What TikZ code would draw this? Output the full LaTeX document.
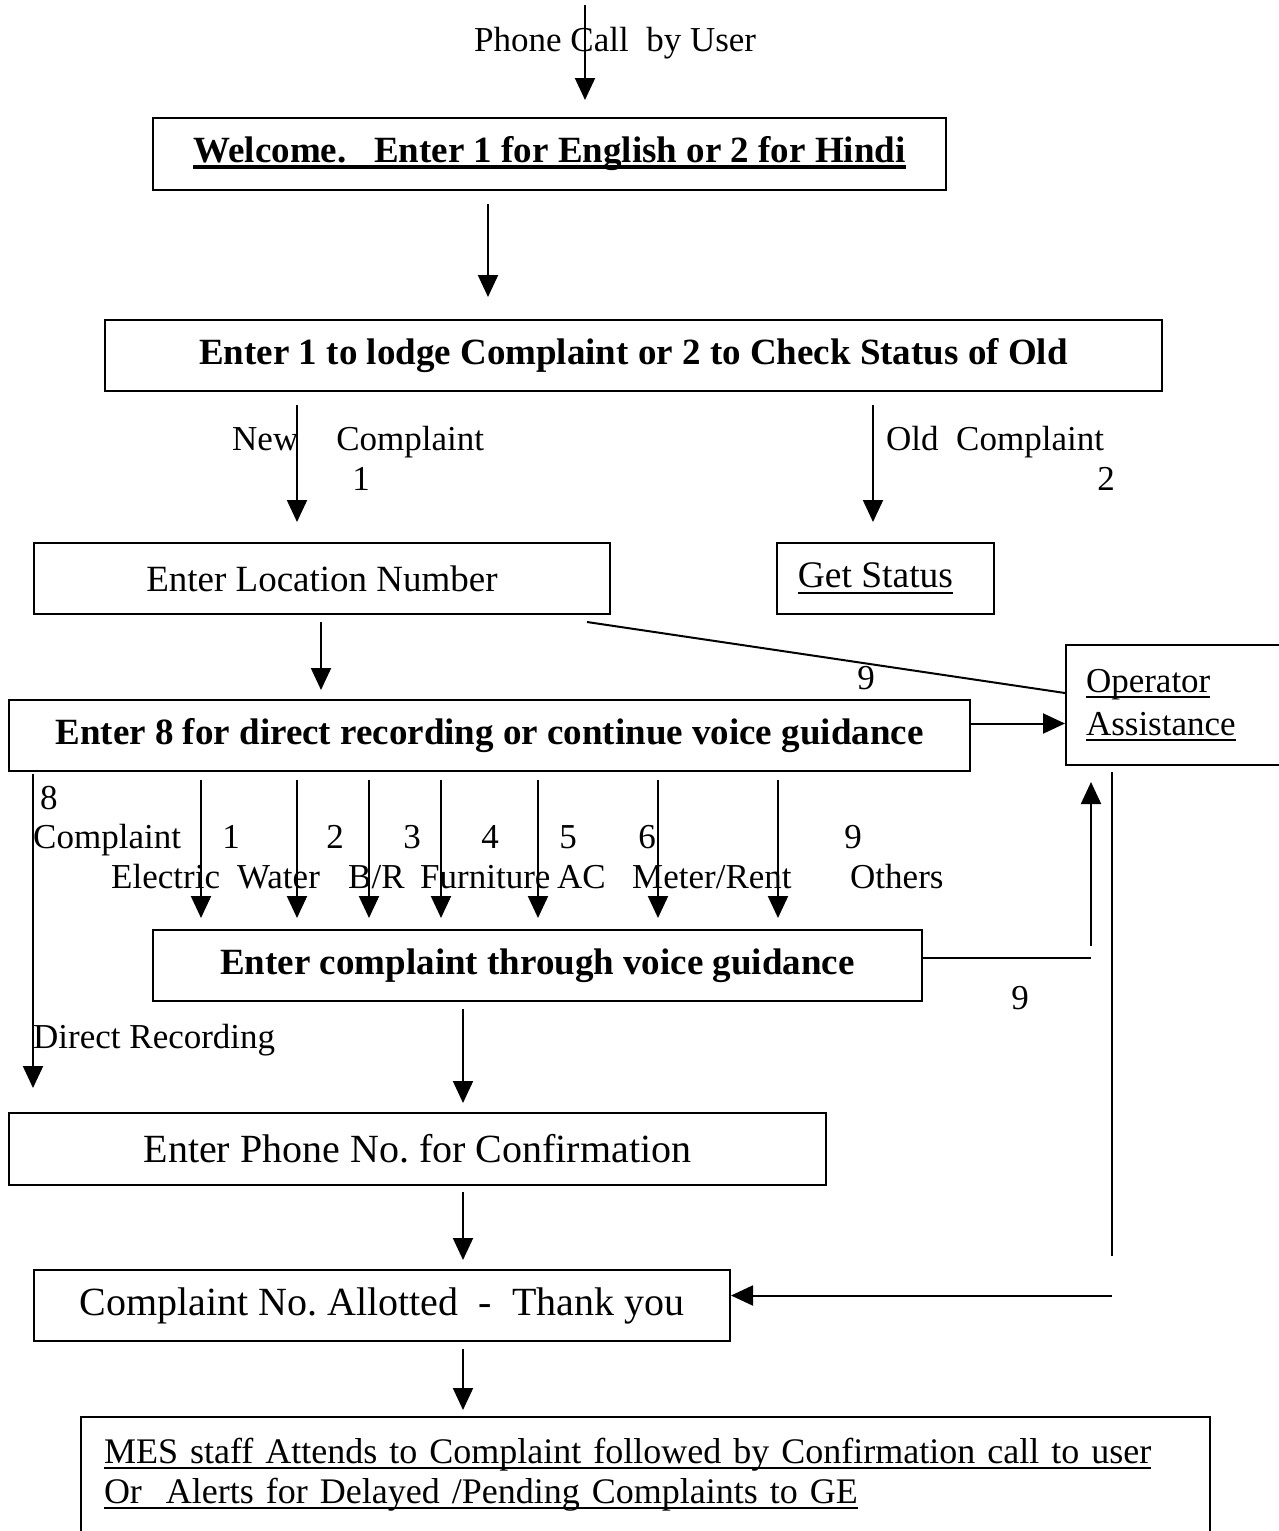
\documentclass[tikz,border=0pt]{standalone}
\usepackage{fontspec}
\setmainfont{Liberation Serif}
\usetikzlibrary{arrows.meta,positioning}

\frenchspacing
% underline: optional thickness
\newcommand{\undl}[2][2pt]{\setbox0=\hbox{#2}\leavevmode\rlap{\rule[-6pt]{\wd0}{#1}}\box0}
\newcommand{\labelsize}{\fontsize{35}{43}\selectfont}
\newcommand{\boxsize}{\fontsize{40}{48}\selectfont}
\newcommand{\boldsize}{\fontsize{37}{44}\selectfont\bfseries}

\tikzset{
  box/.style={draw, line width=2pt, anchor=north west, inner sep=0pt, minimum height=71pt},
  flow/.style={line width=2pt, -{Triangle[length=22pt,width=20pt]}},
  wire/.style={line width=2pt},
  lbl/.style={inner sep=0pt, anchor=base west, font=\labelsize},
  num/.style={inner sep=0pt, anchor=base, font=\labelsize},
}

\begin{document}
\begin{tikzpicture}[x=1pt,y=-1pt]
\useasboundingbox (0,0) rectangle (1279,1531);

% start
\node[lbl] (call) at (474,51) {Phone Call \ by User};
\coordinate (callin) at (585,5);

% boxes
\node[box, minimum width=793pt, minimum height=72pt] (welcome) at (152,117)
  {\boldsize\undl[4pt]{Welcome.\ \ \ Enter 1 for English or 2 for Hindi}};
\node[box, minimum width=1057pt] (choice) at (104,319)
  {\boldsize Enter 1 to lodge Complaint or 2 to Check Status of Old};
\node[box, minimum width=576pt] (loc) at (33,542)
  {\fontsize{37}{44}\selectfont Enter Location Number};
\node[box, minimum width=217pt] (status) at (776,542)
  {\fontsize{37.5}{44}\selectfont\hspace*{-20pt}\undl{Get Status}};
\node[box, minimum width=961pt] (guide) at (8,699)
  {\boldsize Enter 8 for direct recording or continue voice guidance};
\node[box, minimum height=120pt, text width=190pt, inner xsep=20pt, align=left,
  font=\labelsize] (opr) at (1065,644) {\undl{Operator}\\\undl{Assistance}};
\node[box, minimum width=769pt] (voice) at (152,929)
  {\boldsize Enter complaint through voice guidance};
\node[box, minimum width=817pt, minimum height=72pt] (phone) at (8,1112)
  {\boxsize Enter Phone No. for Confirmation};
\node[box, minimum width=696pt] (allot) at (33,1269)
  {\boxsize Complaint No. Allotted \ - \ Thank you};
\node[box, text width=1083pt, inner xsep=23pt, inner ysep=21pt, align=left,
  font=\fontsize{36}{40}\selectfont] (mes) at (80,1416)
  {\undl{MES staff Attends to Complaint followed by Confirmation call to user}\\
   \undl{Or \ Alerts for Delayed /Pending Complaints to GE}\\ \mbox{}};

% arrows down the middle
\draw[flow] (callin) -- ([yshift=17pt]welcome.north -| callin);
\draw[flow] ([yshift=-13pt]welcome.south -| 488,0) -- ([yshift=22pt]choice.north -| 488,0);
\draw[flow] ([yshift=-13pt]choice.south -| 297,0) -- ([yshift=20pt]loc.north -| 297,0);
\draw[flow] ([yshift=-13pt]choice.south -| 873,0) -- ([yshift=20pt]status.north -| 873,0);
\draw[flow] ([yshift=-7pt]loc.south -| 321,0) -- ([yshift=9pt]guide.north -| 321,0);
\foreach \x in {201,297,369,441,538,658,778}
  \draw[flow] ([yshift=-8pt]guide.south -| \x,0) -- ([yshift=11pt]voice.north -| \x,0);
\draw[flow] ([yshift=-7pt]voice.south -| 463,0) -- ([yshift=9pt]phone.north -| 463,0);
\draw[flow] ([yshift=-6pt]phone.south -| 463,0) -- ([yshift=9pt]allot.north -| 463,0);
\draw[flow] ([yshift=-7pt]allot.south -| 463,0) -- ([yshift=6pt]mes.north -| 463,0);

% direct recording
\coordinate (direct) at (33,1088);
\draw[flow] ([yshift=-2pt]guide.south -| direct) -- (direct);

% operator
\draw[wire] ([xshift=-24pt,yshift=-7pt]loc.south east) -- ([yshift=12pt]opr.west);
\draw[flow] ([yshift=12pt]guide.east) -- ([yshift=12pt]guide.east -| opr.west);
\draw[wire] ([yshift=8pt]voice.east) -- ++(168,0) coordinate (vturn);
\draw[flow] ([yshift=12pt]vturn) -- ([yshift=-16pt]vturn |- opr.south);
\coordinate (rtop) at (1112,772);
\coordinate (rbot) at (1112,1256);
\draw[wire] (rtop) -- (rbot);
\draw[flow] ([yshift=10pt]allot.east -| rbot) -- ([yshift=10pt]allot.east);

% labels
\node[lbl] (newc) at (232,450) {New\hspace{38pt}Complaint};
\node[num] (one) at (361,490) {1};
\node[lbl] (oldc) at (886,450) {Old \ Complaint};
\node[num] (two) at (1106,490) {2};
\node[num] (nine1) at (866,689) {9};
\node[lbl] (eight) at (40,809) {8};
\node[lbl] (compl) at (33,848) {Complaint};
\foreach \n/\x in {1/231,2/335,3/412,4/490,5/568,6/647,9/853}
  \node[num] (k\n) at (\x,848) {\n};
\node[lbl] (elec) at (111,888) {Electric};
\node[lbl] (water) at (237,888) {Water};
\node[lbl] (br) at (348,888) {B/R};
\node[lbl] (furn) at (420,888) {Furniture};
\node[lbl] (ac) at (557,888) {AC};
\node[lbl] (meter) at (632,888) {Meter/Rent};
\node[lbl] (others) at (850,888) {Others};
\node[num] (nine2) at (1020,1009) {9};
\node[lbl] (direc) at (33,1048) {Direct Recording};

\end{tikzpicture}
\end{document}
